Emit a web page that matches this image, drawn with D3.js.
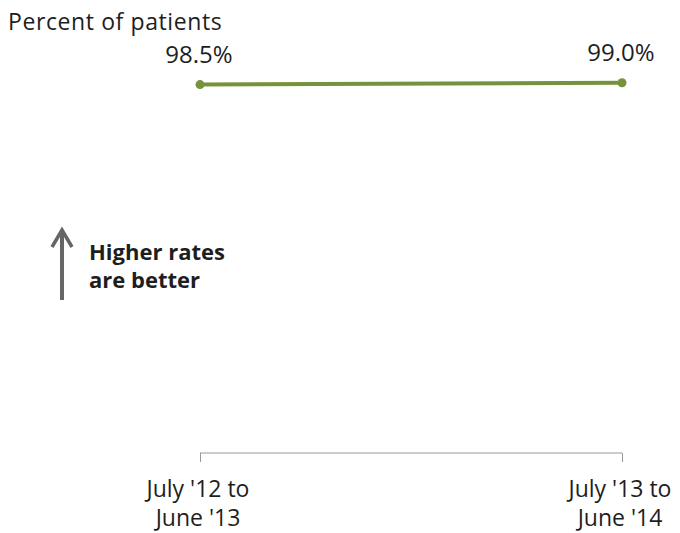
<!DOCTYPE html>
<html>
<head>
<meta charset="utf-8">
<script src="https://cdn.jsdelivr.net/npm/d3@7"></script>
<style>
  body { margin: 0; background: #fff; overflow: hidden; }
  svg { display: block; }
  svg text { font-family: "Open Sans", "Noto Sans", sans-serif; fill: #1e1e1e; }
</style>
</head>
<body>
<div id="chart"></div>
<script>
const periods = ["July '12 to\nJune '13", "July '13 to\nJune '14"];
const values = [98.5, 99.0];
const valueLabels = ["98.5%", "99.0%"];

const width = 680, height = 533;

const svg = d3.select('#chart').append('svg')
  .attr('width', width)
  .attr('height', height);

const x = d3.scalePoint()
  .domain(periods)
  .range([200, 622]);

const y = d3.scaleLinear()
  .domain([0, 100])
  .range([453, 79]);

// title
svg.append('text')
  .attr('x', 8)
  .attr('y', 30)
  .style('font-size', '23px')
  .style('letter-spacing', '0.6px')
  .text('Percent of patients');

// x axis: a bracket line with end ticks
const axis = svg.append('g')
  .attr('transform', `translate(0,${y(0)})`)
  .call(d3.axisBottom(x).tickSize(9).tickFormat(''));
axis.select('.domain').remove();
axis.selectAll('.tick line').attr('stroke', '#999');
axis.append('line')
  .attr('x1', x(periods[0]))
  .attr('x2', x(periods[1]))
  .attr('stroke', '#999');

// x labels (two lines)
periods.forEach(p => {
  const t = svg.append('text')
    .attr('text-anchor', 'middle')
    .attr('x', x(p) - 2)
    .attr('y', 497)
    .style('font-size', '23px');
  p.split('\n').forEach((s, i) => {
    t.append('tspan').attr('x', x(p) - 2).attr('dy', i ? 29 : 0).text(s);
  });
});

// line
const line = d3.line()
  .x((d, i) => x(periods[i]))
  .y(d => y(d));

svg.append('path')
  .datum(values)
  .attr('d', line)
  .attr('fill', 'none')
  .attr('stroke', '#76923c')
  .attr('stroke-width', 4);

svg.selectAll('.dot')
  .data(values)
  .enter()
  .append('circle')
  .attr('class', 'dot')
  .attr('cx', (d, i) => x(periods[i]))
  .attr('cy', d => y(d))
  .attr('r', 4.5)
  .attr('fill', '#76923c');

svg.selectAll('.vlabel')
  .data(values)
  .enter()
  .append('text')
  .attr('class', 'vlabel')
  .attr('text-anchor', 'middle')
  .attr('x', (d, i) => x(periods[i]) - 1)
  .attr('y', d => y(d) - 22)
  .style('font-size', '24px')
  .text((d, i) => valueLabels[i]);

// arrow note
svg.append('line')
  .attr('x1', 62).attr('x2', 62)
  .attr('y1', 300).attr('y2', 231)
  .attr('stroke', '#666')
  .attr('stroke-width', 4);
svg.append('path')
  .attr('d', 'M52,247 L62,230 L72,247')
  .attr('fill', 'none')
  .attr('stroke', '#666')
  .attr('stroke-width', 3.5);

const note = svg.append('text')
  .attr('x', 89)
  .attr('y', 260)
  .style('font-size', '22px')
  .style('font-weight', 'bold');
note.append('tspan').attr('x', 89).text('Higher rates');
note.append('tspan').attr('x', 89).attr('dy', 28).text('are better');
</script>
</body>
</html>
